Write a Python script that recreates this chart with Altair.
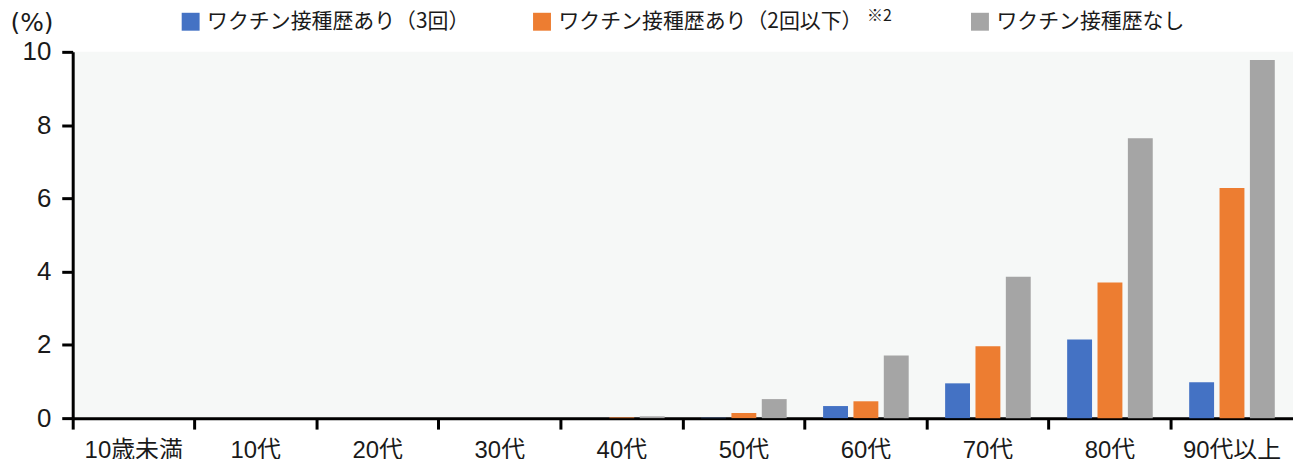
import altair as alt
import pandas as pd

categories = ["10歳未満", "10代", "20代", "30代", "40代", "50代", "60代", "70代", "80代", "90代以上"]
series = ["ワクチン接種歴あり（3回）", "ワクチン接種歴あり（2回以下）", "ワクチン接種歴なし"]
vals_3 = [0, 0, 0, 0, 0.0, 0.01, 0.33, 0.95, 2.15, 0.98]
vals_2 = [0, 0, 0, 0, 0.02, 0.14, 0.46, 1.96, 3.70, 6.28]
vals_0 = [0, 0, 0, 0, 0.05, 0.52, 1.71, 3.86, 7.64, 9.78]
colors = ["#4472C4", "#ED7D31", "#A5A5A5"]

rows = []
for s, vals in zip(series, [vals_3, vals_2, vals_0]):
    for c, v in zip(categories, vals):
        rows.append({"cat": c, "series": s, "value": v})
df = pd.DataFrame(rows)

FONT = "Liberation Sans, Noto Sans CJK JP"
CJK = "Noto Sans CJK JP"
TXT = "#1a1a1a"

bars = alt.Chart(df).mark_bar().encode(
    x=alt.X("cat:N", sort=categories,
            scale=alt.Scale(paddingInner=0, paddingOuter=0),
            axis=alt.Axis(title=None, labelAngle=0, bandPosition=0, domainColor="black",
                          domainWidth=3, tickColor="black", tickWidth=3, tickSize=11,
                          labelPadding=10, labelFontSize=24, labelFont=FONT,
                          labelColor=TXT, grid=False)),
    xOffset=alt.XOffset("series:N", sort=series,
                        scale=alt.Scale(paddingInner=0.18, paddingOuter=0.6)),
    y=alt.Y("value:Q", scale=alt.Scale(domain=[0, 10], nice=False),
            axis=alt.Axis(values=[0, 2, 4, 6, 8, 10], title="(%)", titleAngle=0,
                          titleAlign="left", titleBaseline="alphabetic",
                          titleX=-63, titleY=-21, titleFontSize=25,
                          titleFont="DejaVu Sans", titleFontWeight="normal", titleColor=TXT,
                          domainColor="black", domainWidth=3, tickColor="black",
                          tickWidth=3, tickSize=11, labelPadding=11, labelFontSize=26,
                          labelFont=FONT, labelColor=TXT, grid=False)),
    color=alt.Color("series:N", sort=series,
                    scale=alt.Scale(domain=series, range=colors),
                    legend=alt.Legend(title=None, orient="none", direction="horizontal",
                                      legendX=108, legendY=-41, symbolType="square",
                                      symbolSize=324, symbolStrokeWidth=0,
                                      labelFontSize=21, labelFont=CJK, labelLimit=0,
                                      labelColor=TXT, columnPadding=62,
                                      labelOffset=6,
                                      labelExpr="datum.label == 'ワクチン接種歴あり（2回以下）' ? datum.label + '\u2800\u2800\u2800' : datum.label")),
)

note = alt.Chart(pd.DataFrame({"t": ["※2"]})).mark_text(
    fontSize=16, font=CJK, color=TXT, align="left", baseline="alphabetic"
).encode(text="t:N", x=alt.value(798), y=alt.value(-31))

chart = alt.layer(bars, note).properties(
    width=1226, height=368,
    autosize=alt.AutoSizeParams(type="none"),
    padding={"left": 65, "top": 43, "right": 0, "bottom": 40},
).configure_view(fill="#F6F8F7", stroke=None)

chart.save("out.html", embed_options={"renderer": "svg", "actions": False})
